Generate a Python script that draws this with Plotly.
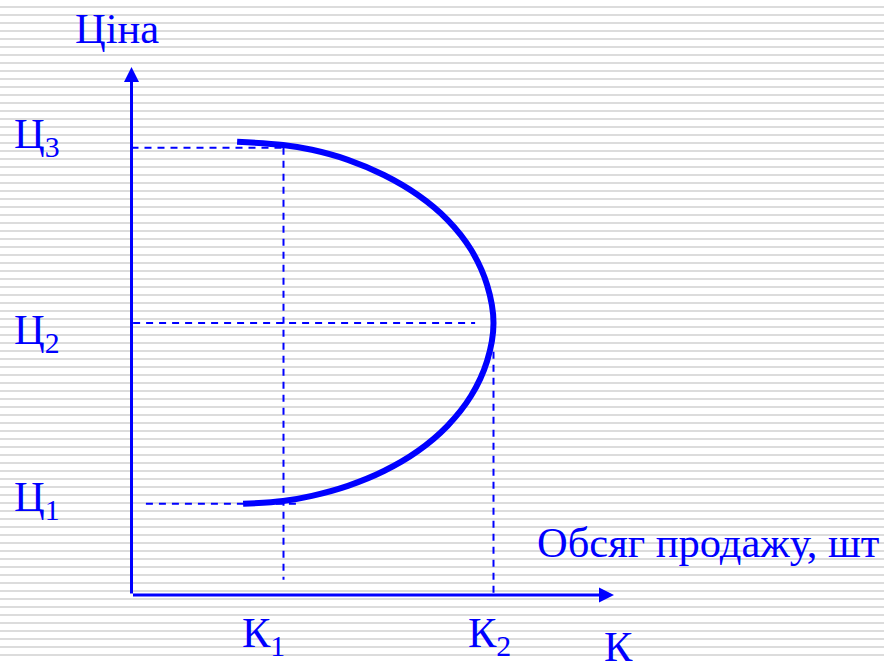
import plotly.graph_objects as go

# ---- data (units: quantity on x, price on y) ----
price_labels = ["Ц<sub>1</sub>", "Ц<sub>2</sub>", "Ц<sub>3</sub>"]
price_levels = [2.28, 6.8, 11.18]          # Ц1, Ц2, Ц3
qty_labels = ["К<sub>1</sub>", "К<sub>2</sub>"]
qty_levels = [3.8, 9.05]                   # К1, К2

# demand-like curve (quantity, price)
curve_q = [2.64, 3.79, 4.51, 5.41, 6.31, 7.16, 7.90, 8.49, 8.89, 9.05,
           8.89, 8.49, 7.90, 7.16, 6.31, 5.41, 4.51, 3.79, 2.79]
curve_p = [11.33, 11.25, 11.13, 10.88, 10.50, 10.00, 9.38, 8.63, 7.75, 6.80,
           5.85, 4.98, 4.23, 3.60, 3.10, 2.73, 2.48, 2.35, 2.28]

y_title = "Ціна"
x_title = "Обсяг продажу, шт"
x_letter = "К"

BLUE = "#0000ff"
FONT = "Liberation Serif, Times New Roman, serif"
FS = 42.5
W, H = 884, 663
S = 40.0            # pixels per unit
OX, OY = 131.5, 595 # origin in pixels

fig = go.Figure()

# dashed guide lines
c1, c2, c3 = price_levels
k1, k2 = qty_levels
guides = [
    ([0, k1], [c3, c3]),
    ([k1, k1], [c3, 0.38]),
    ([0.04, 8.59], [c2, c2]),
    ([k2, k2], [6.08, 0]),
    ([0.36, 4.14], [c1, c1]),
]
for gx, gy in guides:
    fig.add_trace(go.Scatter(x=gx, y=gy, mode="lines",
                             line=dict(color=BLUE, width=2, dash="7px,6px"),
                             hoverinfo="skip", showlegend=False))

# main curve
fig.add_trace(go.Scatter(x=curve_q, y=curve_p, mode="lines",
                         line=dict(color=BLUE, width=6, shape="spline", smoothing=1),
                         hoverinfo="skip", showlegend=False))

# axes with arrows
y_tip = (OY - 67) / S
x_tip = (614 - OX) / S
for (x, y) in [(0, y_tip), (x_tip, 0)]:
    fig.add_annotation(x=x, y=y, ax=0, ay=0, axref="x", ayref="y", xref="x", yref="y",
                       text="", showarrow=True, arrowhead=2, arrowsize=1,
                       arrowwidth=3, arrowcolor=BLUE)

def label(text, left_px, top_px):
    fig.add_annotation(x=left_px / W, y=1 - top_px / H, xref="paper", yref="paper",
                       xanchor="left", yanchor="top", text=text, showarrow=False,
                       font=dict(family=FONT, size=FS, color=BLUE))

label(y_title, 73, 3.1)
label(x_title, 535, 517.1)
label(x_letter, 602, 620.6)
for t, top in zip(price_labels, [471.1, 304.1, 108.1]):
    label(t, 12, top)
for t, left in zip(qty_labels, [240, 466]):
    label(t, left, 607.1)

fig.update_layout(
    width=W, height=H, margin=dict(l=0, r=0, t=0, b=0, pad=0),
    paper_bgcolor="white", plot_bgcolor="white",
    xaxis=dict(range=[-OX / S, (W - OX) / S], showgrid=False, zeroline=False,
               showticklabels=False, showline=False, ticks=""),
    yaxis=dict(range=[(OY - H) / S, OY / S], showgrid=True, gridcolor="#dcdcdc",
               gridwidth=2, tick0=0.1, dtick=0.2, zeroline=False,
               showticklabels=False, showline=False, ticks=""),
    showlegend=False,
)

fig.write_html("out.html", config={"displayModeBar": False},
               post_script="document.body.style.margin='0';document.body.style.overflow='hidden';")
